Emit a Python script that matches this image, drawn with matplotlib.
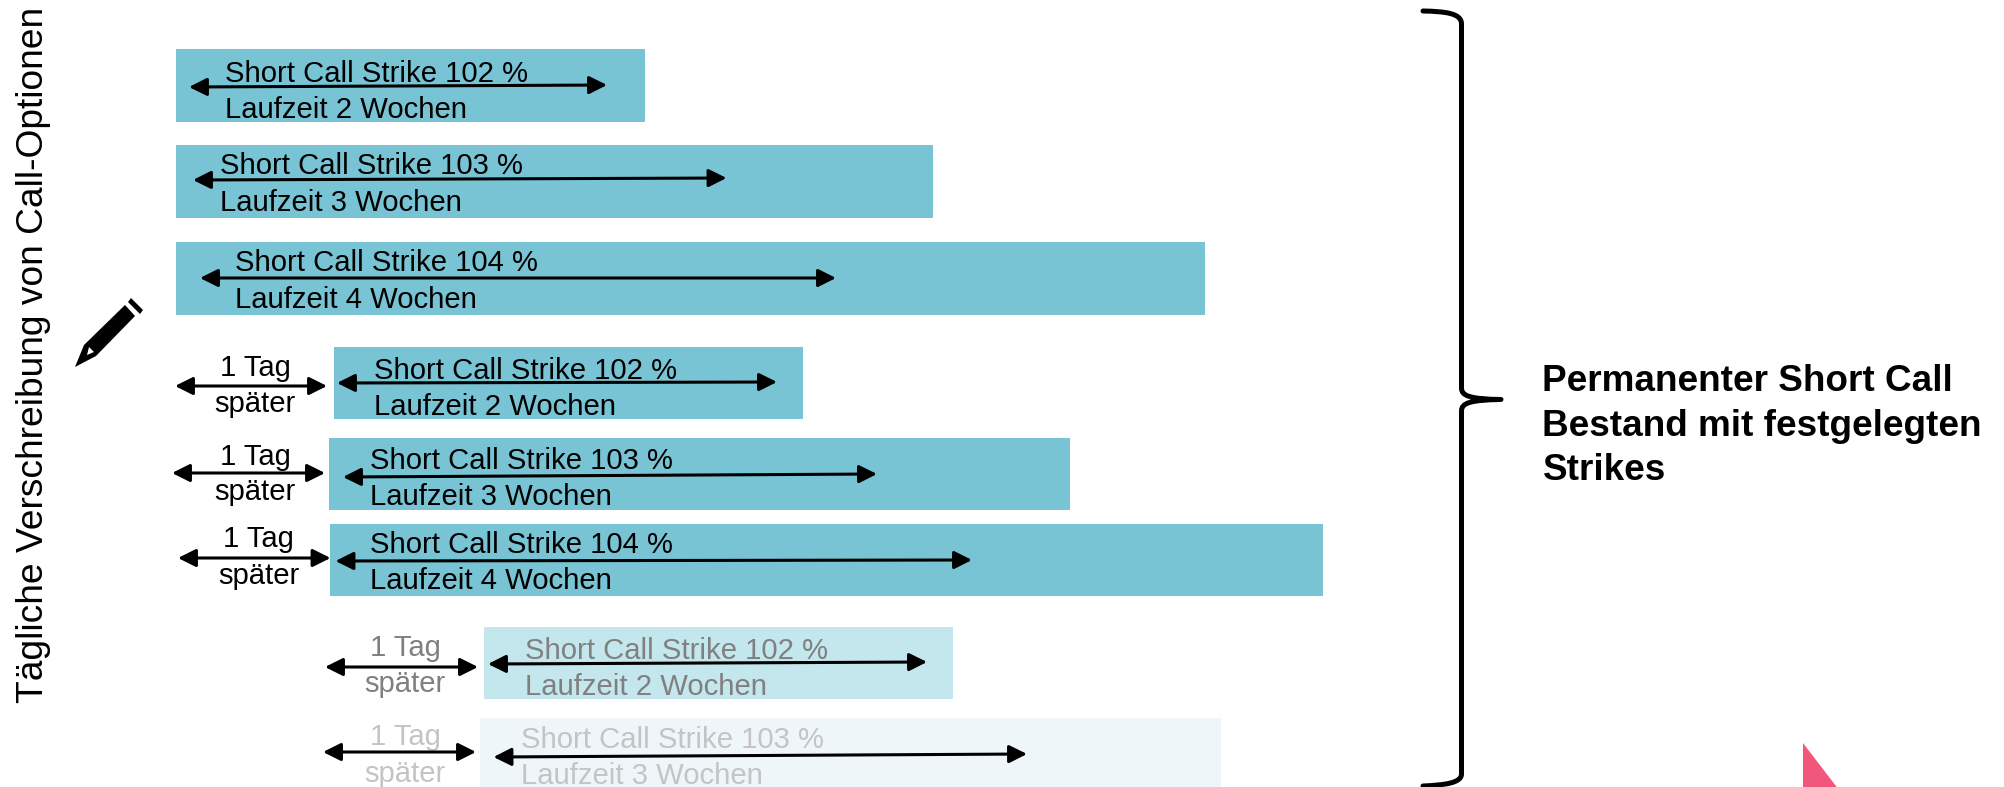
import matplotlib
matplotlib.use("Agg")
import matplotlib.pyplot as plt
from matplotlib.patches import PathPatch, Polygon
from matplotlib.path import Path

plt.rcParams['font.family'] = ['Liberation Sans', 'DejaVu Sans']

# Balken in Pixeln des Originals
bar_left = [176, 176, 176, 334, 329, 330, 484, 480]
bar_right = [645, 933, 1205, 803, 1070, 1323, 953, 1221]
bar_top = [49, 145, 242, 346.8, 437.8, 523.8, 626.8, 717.8]
bar_bottom = [121.8, 217.8, 314.8, 418.8, 509.8, 595.8, 698.8, 789]

strikes = [102, 103, 104, 102, 103, 104, 102, 103]
wochen = [2, 3, 4, 2, 3, 4, 2, 3]
text_x = [225, 220, 235, 374, 370.5, 370.5, 525, 521]
strike_y = [82, 174, 271, 379, 469, 553, 659, 748]
laufzeit_y = [118, 211, 308, 415, 505, 589, 695, 784]

# Laufzeit-Pfeile in den Balken
arrow_x0 = [191, 195, 202, 339, 345, 337.5, 490, 495.5]
arrow_x1 = [605, 724.5, 834, 775, 875, 970, 925, 1025]
arrow_y0 = [87, 180, 278, 383, 477, 561, 664, 757]
arrow_y1 = [85, 178, 278, 382, 474, 560, 662, 754]

# "1 Tag später"-Pfeile
tag_x0 = [177, 174, 180, 327, 325]
tag_x1 = [325, 323, 328.5, 476, 474]
tag_y = [386, 473, 558, 667, 752]
tag_text_x = [255, 255, 258.5, 405, 405]
tag_text_y = [376, 465, 547, 656, 745]
spaeter_text_y = [411.5, 500.5, 583.5, 692.5, 782.5]

bar_colors = ['#78C4D5'] * 6 + ['#C4E6ED', '#EEF6F9']
text_colors = ['black'] * 6 + ['#808080', '#C4C4C4']
tag_colors = ['black', 'black', 'black', '#808080', '#C4C4C4']

ylabel_text = 'Tägliche Verschreibung von Call-Optionen'
summary_lines = ['Permanenter Short Call', 'Bestand mit festgelegten', 'Strikes']
summary_y = [391, 436, 480]

pencil_body = [(75, 367), (84, 345), (125, 305), (135, 316), (96, 356)]
pencil_cap = [(131, 298), (143, 310), (140, 314), (128, 302)]
pencil_hole = [(89, 347), (94, 352), (87, 355)]
corner_triangle = [(1803, 743), (1803, 790), (1839, 790)]

BRACE_X = 1461.5
TIP_PAD = 2  # die Pfeilspitze endet sonst etwas zu frueh


def draw_arrow(ax, x0, y0, x1, y1):
    ax.annotate('', xy=(x1 + TIP_PAD, y1), xytext=(x0 - TIP_PAD, y0), zorder=4,
                arrowprops=dict(arrowstyle='<|-|>,head_length=0.9,head_width=0.45',
                                mutation_scale=12, lw=2.2, color='black',
                                shrinkA=0, shrinkB=0))


fig = plt.figure(figsize=(20.04, 7.87), dpi=100)
ax = fig.add_axes([0, 0, 1, 1])
ax.set_xlim(0, 2004)
ax.set_ylim(787, 0)
ax.axis('off')

for i in range(len(bar_left)):
    ax.fill_between([bar_left[i], bar_right[i]], bar_top[i], bar_bottom[i],
                    color=bar_colors[i], lw=0, zorder=1)
    ax.text(text_x[i], strike_y[i], f'Short Call Strike {strikes[i]} %', fontsize=21.1,
            color=text_colors[i], va='baseline', ha='left', zorder=3)
    ax.text(text_x[i], laufzeit_y[i], f'Laufzeit {wochen[i]} Wochen', fontsize=21.1,
            color=text_colors[i], va='baseline', ha='left', zorder=3)
    draw_arrow(ax, arrow_x0[i], arrow_y0[i], arrow_x1[i], arrow_y1[i])

for i in range(len(tag_y)):
    ax.text(tag_text_x[i], tag_text_y[i], '1 Tag', fontsize=21.1, color=tag_colors[i],
            ha='center', va='baseline', zorder=3)
    ax.text(tag_text_x[i], spaeter_text_y[i], 'später', fontsize=21.1, color=tag_colors[i],
            ha='center', va='baseline', zorder=3)
    draw_arrow(ax, tag_x0[i], tag_y[i], tag_x1[i], tag_y[i])

# Achsentitel links
ax.text(43.5, 355, ylabel_text, rotation=90, fontsize=26.7, color='black',
        ha='center', va='baseline', rotation_mode='anchor')

# Bleistift
ax.add_patch(Polygon(pencil_body, closed=True, fc='black', ec='none', zorder=2))
ax.add_patch(Polygon(pencil_cap, closed=True, fc='black', ec='none', zorder=2))
ax.add_patch(Polygon(pencil_hole, closed=True, fc='white', ec='none', zorder=3))

# Geschweifte Klammer rechts
verts = [(1423, 11), (1445, 11.5), (1461.5, 13), (BRACE_X, 24),
         (BRACE_X, 388),
         (BRACE_X, 396), (1470, 399), (1501, 399.5),
         (1470, 400), (BRACE_X, 403), (BRACE_X, 411),
         (BRACE_X, 774),
         (BRACE_X, 783), (1445, 785), (1423, 786)]
codes = [Path.MOVETO, Path.CURVE4, Path.CURVE4, Path.CURVE4,
         Path.LINETO,
         Path.CURVE4, Path.CURVE4, Path.CURVE4,
         Path.CURVE4, Path.CURVE4, Path.CURVE4,
         Path.LINETO,
         Path.CURVE4, Path.CURVE4, Path.CURVE4]
ax.add_patch(PathPatch(Path(verts, codes), fc='none', ec='black', lw=3.6,
                       capstyle='round', joinstyle='round', zorder=2))

for line, y in zip(summary_lines, summary_y):
    ax.text(1542.5, y, line, fontsize=26.6, fontweight='bold', color='black',
            ha='left', va='baseline')

ax.add_patch(Polygon(corner_triangle, closed=True, fc='#F1577B', ec='none', zorder=2))

fig.savefig('out.png', dpi=100)
plt.close(fig)
